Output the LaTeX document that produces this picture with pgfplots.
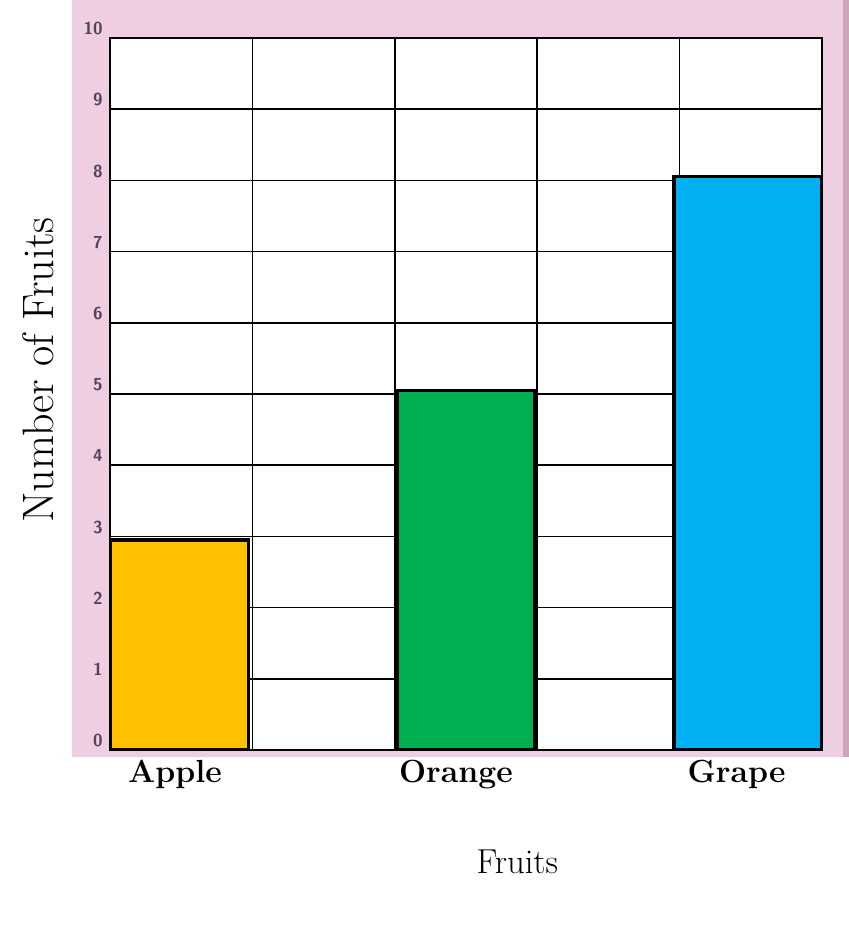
\documentclass[border=0pt]{standalone}
\usepackage{pgfplots}
\pgfplotsset{compat=1.18}
\definecolor{pinkbg}{RGB}{240,206,226}
\definecolor{pinkedge}{RGB}{205,165,185}
\definecolor{appleC}{RGB}{255,192,0}
\definecolor{orangeC}{RGB}{0,176,80}
\definecolor{grapeC}{RGB}{0,176,240}
\definecolor{tickC}{RGB}{80,70,90}
\begin{document}
\begin{tikzpicture}
\path (0,0) rectangle (636.75pt,-704.25pt);
\fill[pinkbg] (54pt,0) rectangle (636.75pt,-567.75pt);
\fill[pinkedge] (632pt,0) rectangle (636.75pt,-567.75pt);
\begin{axis}[at={(82.5pt,-562.5pt)}, anchor=origin,
  scale only axis, width=534pt, height=534pt,
  xmin=0, xmax=5, ymin=0, ymax=10,
  axis background/.style={fill=white},
  xtick={0,1,2,3,4,5}, xticklabels={},
  ytick={0,1,...,10},
  grid=major, major grid style={black, line width=1.3pt},
  axis line style={black, line width=1.3pt},
  major tick length=0pt,
  /pgf/number format/assume math mode=true,
  yticklabel style={font=\sffamily\bfseries\fontsize{13}{15}\selectfont, text=tickC, xshift=-2pt, yshift=7pt},
  extra x ticks={0.456,2.43,4.40},
  extra x tick labels={Apple,Orange,Grape},
  extra x tick style={grid=none, major tick length=0pt,
    xticklabel style={font=\bfseries\fontsize{24}{28}\selectfont, yshift=-4pt}},
  ybar, bar shift=0pt,
]
\addplot[fill=appleC, draw=black, line width=2.4pt, bar width=0.97] coordinates {(0.485,2.95)};
\addplot[fill=orangeC, draw=black, line width=2.4pt, bar width=0.96] coordinates {(2.5,5.05)};
\addplot[fill=grapeC, draw=black, line width=2.4pt, bar width=1.04] coordinates {(4.48,8.05)};
\end{axis}
\node[font=\fontsize{26}{30}\selectfont] at (388pt,-646.5pt) {Fruits};
\node[rotate=90, font=\fontsize{33}{38}\selectfont] at (28.5pt,-277.5pt) {Number of Fruits};
\end{tikzpicture}
\end{document}
